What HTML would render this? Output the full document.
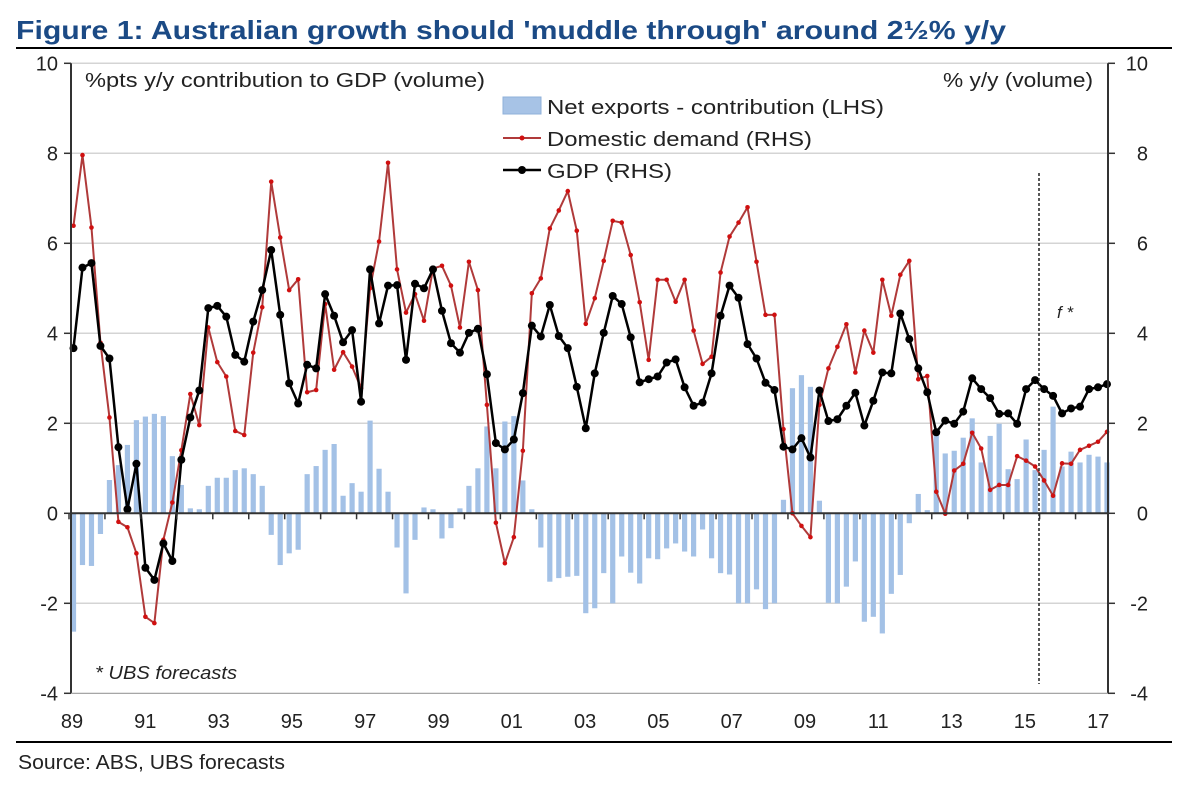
<!DOCTYPE html>
<html><head><meta charset="utf-8"><style>
body{margin:0;background:#fff;}
svg text{font-family:"Liberation Sans",sans-serif;}
</style></head><body>
<svg id="c" width="1188" height="785" xmlns="http://www.w3.org/2000/svg">
<text x="16" y="39" font-size="26" font-weight="bold" fill="#1b4a85" textLength="990" lengthAdjust="spacingAndGlyphs">Figure 1: Australian growth should 'muddle through' around 2½% y/y</text>
<line x1="16" y1="48" x2="1172" y2="48" stroke="#000" stroke-width="2"/>
<g id="grid"></g>
<g id="bars"></g>
<g id="lines"></g>
<g id="axes"></g>
<text x="85" y="87" font-size="20" fill="#222" textLength="400" lengthAdjust="spacingAndGlyphs">%pts y/y contribution to GDP (volume)</text>
<text x="943" y="87" font-size="20" fill="#222" textLength="150" lengthAdjust="spacingAndGlyphs">% y/y (volume)</text>
<g>
<rect x="503" y="97" width="38" height="17" fill="#a7c3e6" stroke="#8fb0da"/>
<text x="547" y="114" font-size="20" fill="#222" textLength="337" lengthAdjust="spacingAndGlyphs">Net exports - contribution (LHS)</text>
<line x1="503" y1="138" x2="541" y2="138" stroke="#b03a3a" stroke-width="2"/>
<circle cx="522" cy="138" r="2.5" fill="#d01010"/>
<text x="547" y="146" font-size="20" fill="#222" textLength="265" lengthAdjust="spacingAndGlyphs">Domestic demand (RHS)</text>
<line x1="503" y1="170" x2="541" y2="170" stroke="#000" stroke-width="2.5"/>
<circle cx="522" cy="170" r="4" fill="#000"/>
<text x="547" y="178" font-size="20" fill="#222" textLength="125" lengthAdjust="spacingAndGlyphs">GDP (RHS)</text>
</g>
<line x1="1039" y1="173" x2="1039" y2="684" stroke="#222" stroke-width="1.5" stroke-dasharray="3,2"/>
<text x="1057" y="318" font-size="17" font-style="italic" fill="#222">f *</text>
<text x="95" y="679" font-size="18" font-style="italic" fill="#222" textLength="142" lengthAdjust="spacingAndGlyphs">* UBS forecasts</text>
<line x1="16" y1="742" x2="1172" y2="742" stroke="#000" stroke-width="2"/>
<text x="18" y="769" font-size="20" fill="#222" textLength="267" lengthAdjust="spacingAndGlyphs">Source: ABS, UBS forecasts</text>
</svg>
<script>
const yTicks=[10,8,6,4,2,0,-2,-4];
const xLabels=["89","91","93","95","97","99","01","03","05","07","09","11","13","15","17"];
const netExports=[-2.63,-1.15,-1.17,-0.46,0.74,1.07,1.52,2.07,2.15,2.21,2.16,1.27,0.63,0.11,0.09,0.61,0.79,0.79,0.96,1.0,0.87,0.61,-0.48,-1.15,-0.89,-0.81,0.87,1.05,1.41,1.54,
0.39,0.67,0.48,2.06,0.99,0.48,-0.76,-1.78,-0.59,0.13,0.09,-0.56,-0.33,0.11,0.61,1.0,1.93,1.0,2.04,2.16,0.73,0.09,-0.76,-1.52,-1.44,-1.41,-1.39,-2.22,-2.11,-1.33,
-2.0,-0.96,-1.32,-1.56,-1.0,-1.02,-0.78,-0.67,-0.85,-0.96,-0.36,-1.0,-1.33,-1.36,-2.0,-2.0,-1.69,-2.13,-2.0,0.30,2.78,3.07,2.81,0.28,-1.99,-2.0,-1.63,
-1.07,-2.41,-2.30,-2.67,-1.79,-1.37,-0.22,0.43,0.07,1.74,1.33,1.39,1.68,2.11,1.13,1.72,1.99,0.98,0.76,1.64,0.96,1.41,2.37,1.04,1.37,1.13,1.30,1.26,1.13];
const domesticDemand=[6.39,7.96,6.35,3.79,2.13,-0.19,-0.31,-0.89,-2.30,-2.44,-0.59,0.24,1.4,2.65,1.96,4.13,3.36,3.04,1.83,1.74,3.57,4.58,7.37,6.13,4.96,5.2,2.69,2.74,4.65,3.19,
3.58,3.26,2.78,5.0,6.04,7.79,5.42,4.46,4.87,4.28,5.44,5.50,5.06,4.13,5.59,4.96,2.41,-0.21,-1.11,-0.53,1.39,4.89,5.22,6.33,6.73,7.16,6.28,4.21,4.78,5.61,
6.50,6.46,5.74,4.69,3.41,5.19,5.19,4.70,5.19,4.06,3.32,3.48,5.35,6.15,6.46,6.80,5.59,4.41,4.41,1.87,0.0,-0.28,-0.53,2.41,3.22,3.70,4.20,
3.13,4.06,3.57,5.19,4.39,5.30,5.61,2.98,3.05,0.48,-0.01,0.95,1.10,1.79,1.44,0.52,0.63,0.63,1.27,1.17,1.04,0.73,0.39,1.11,1.10,1.41,1.50,1.59,1.81];
const gdp=[3.67,5.46,5.56,3.72,3.44,1.47,0.09,1.10,-1.21,-1.48,-0.67,-1.06,1.19,2.13,2.73,4.56,4.61,4.37,3.52,3.37,4.26,4.96,5.85,4.41,2.89,2.44,3.30,3.22,4.87,4.39,
3.80,4.07,2.48,5.42,4.22,5.06,5.07,3.41,5.10,5.0,5.42,4.50,3.78,3.57,4.01,4.10,3.09,1.56,1.42,1.64,2.67,4.17,3.93,4.63,3.94,3.67,2.81,1.89,3.11,4.01,
4.83,4.65,3.91,2.91,2.98,3.04,3.35,3.42,2.80,2.39,2.46,3.11,4.39,5.06,4.79,3.76,3.44,2.90,2.74,1.48,1.42,1.67,1.24,2.73,2.05,2.09,2.39,
2.68,1.95,2.50,3.13,3.11,4.44,3.87,3.22,2.69,1.80,2.06,1.99,2.26,3.0,2.76,2.56,2.21,2.22,1.99,2.76,2.96,2.76,2.61,2.22,2.33,2.37,2.76,2.80,2.87];

const NS="http://www.w3.org/2000/svg";
const L=71,R=1108,T=63.3,B=693.3;
const y=v=>513.3-v*45;
const x=i=>73.5+i*(R-1-73.5)/(gdp.length-1);
function mk(tag,parent){const e=document.createElementNS(NS,tag);document.getElementById(parent).appendChild(e);return e;}
yTicks.forEach(t=>{
  if(t!==0&&t!==-4){const g=mk('line','grid');
  
  
  g.setAttribute('x1',L);g.setAttribute('x2',R);g.setAttribute('y1',y(t));g.setAttribute('y2',y(t));g.setAttribute('stroke','#d4d4d4');g.setAttribute('stroke-width','1.5');}
  const a=mk('text','axes');
  
  
  a.setAttribute('x',58);a.setAttribute('y',y(t)+7);a.setAttribute('text-anchor','end');a.setAttribute('font-size','20');a.setAttribute('fill','#222');a.textContent=t;
  const b=mk('text','axes');
  
  
  b.setAttribute('x',1148);b.setAttribute('y',y(t)+7);b.setAttribute('text-anchor','end');b.setAttribute('font-size','20');b.setAttribute('fill','#222');b.textContent=t;
  [[L-7,L],[R,R+7]].forEach(p=>{const k=mk('line','axes');
  
  
  k.setAttribute('x1',p[0]);k.setAttribute('x2',p[1]);k.setAttribute('y1',y(t));k.setAttribute('y2',y(t));k.setAttribute('stroke','#333');k.setAttribute('stroke-width','1.5');});
});
netExports.forEach((v,i)=>{const r=mk('rect','bars');
  
  
  r.setAttribute('x',x(i)-2.6);r.setAttribute('width',5.2);r.setAttribute('y',Math.min(y(v),y(0)));r.setAttribute('height',Math.abs(y(v)-y(0)));r.setAttribute('fill','#a3c1e6');});
function line(data,color,w,name){const p=mk('polyline','lines');
  
  
  p.setAttribute('points',data.map((v,i)=>x(i)+','+y(v)).join(' '));p.setAttribute('fill','none');p.setAttribute('stroke',color);p.setAttribute('stroke-width',w);p.setAttribute('stroke-linejoin','round');}
line(domesticDemand,'#b03a3a',2,'domestic-demand-line');
domesticDemand.forEach((v,i)=>{const c=mk('circle','lines');
  
  
  c.setAttribute('cx',x(i));c.setAttribute('cy',y(v));c.setAttribute('r',2.3);c.setAttribute('fill','#d01010');});
line(gdp,'#000',2.5,'gdp-line');
gdp.forEach((v,i)=>{const c=mk('circle','lines');
  
  
  c.setAttribute('cx',x(i));c.setAttribute('cy',y(v));c.setAttribute('r',4);c.setAttribute('fill','#000');});
const ax=[[L,T,L,B],[R,T,R,B],[L,y(0),R,y(0)],[L,B,R,B]];
ax.forEach((a,k)=>{const l=mk('line','axes');
  
  
  l.setAttribute('x1',a[0]);l.setAttribute('y1',a[1]);l.setAttribute('x2',a[2]);l.setAttribute('y2',a[3]);l.setAttribute('stroke',k==3?'#999':'#333');l.setAttribute('stroke-width',k==3?1.2:2);});
for(let yr=0;yr<29;yr++){const k=mk('line','axes');
  
  
  const xx=x(yr*4)-4.5;k.setAttribute('x1',xx);k.setAttribute('x2',xx);k.setAttribute('y1',y(0));k.setAttribute('y2',y(0)+6);k.setAttribute('stroke','#333');k.setAttribute('stroke-width','1.5');}
xLabels.forEach((s,k)=>{const t=mk('text','axes');
  
  
  t.setAttribute('x',72+k*73.3);t.setAttribute('y',728);t.setAttribute('text-anchor','middle');t.setAttribute('font-size','20');t.setAttribute('fill','#222');t.textContent=s;});
</script>
</body></html>
